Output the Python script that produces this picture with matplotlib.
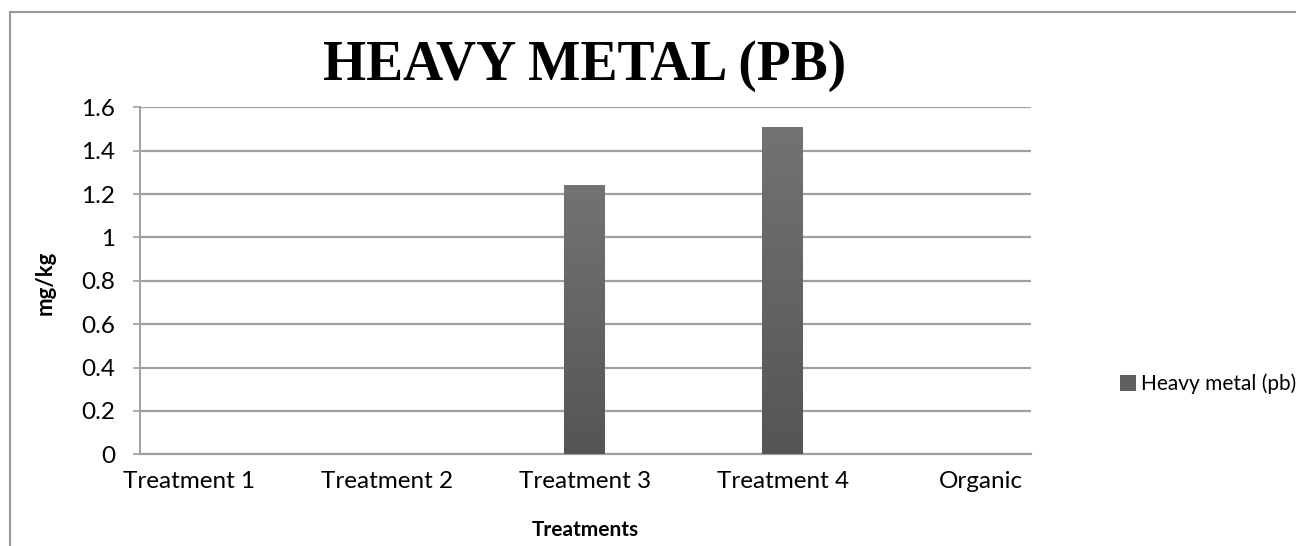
import numpy as np
import matplotlib
matplotlib.use("Agg")
import matplotlib.pyplot as plt
from matplotlib.lines import Line2D

categories = ["Treatment 1", "Treatment 2", "Treatment 3", "Treatment 4", "Organic"]
values = [0, 0, 1.24, 1.51, 0]
yticks = [0, 0.2, 0.4, 0.6, 0.8, 1.0, 1.2, 1.4, 1.6]
ytick_labels = ["0", "0.2", "0.4", "0.6", "0.8", "1", "1.2", "1.4", "1.6"]
series_name = "Heavy metal (pb)"

W, H = 1296, 546
fig = plt.figure(figsize=(W / 100, H / 100), dpi=100)
ax = fig.add_axes([140 / W, 1 - 454.3 / H, (1031 - 140) / W, (454.3 - 107.3) / H])

x = np.arange(len(categories))
bars = ax.bar(x, values, width=0.207, color="#606060", zorder=3)

# vertical gradient inside each bar (lighter on top)
grad = np.linspace(0, 1, 256).reshape(-1, 1)
cmap = matplotlib.colors.LinearSegmentedColormap.from_list("g", ["#555555", "#737373"])
for b in bars:
    if b.get_height() <= 0:
        continue
    x0, w, h = b.get_x(), b.get_width(), b.get_height()
    im = ax.imshow(grad, extent=[x0, x0 + w, 0, h], origin="lower", aspect="auto",
                   cmap=cmap, zorder=4)
    im.set_clip_path(b)

ax.set_xlim(-0.247, 4.253)
ax.set_ylim(0, 1.6)
ax.set_yticks(yticks)
ax.set_yticklabels(ytick_labels)
ax.set_xticks(x)
ax.set_xticklabels(categories)

ax.grid(axis="y", color="#a0a0a0", linewidth=1.6, zorder=0)
for s in ["top", "right"]:
    ax.spines[s].set_visible(False)
ax.spines["left"].set_color("#a0a0a0")
ax.spines["left"].set_linewidth(1.4)
ax.spines["bottom"].set_color("#a0a0a0")
ax.spines["bottom"].set_linewidth(1.6)
ax.tick_params(axis="y", length=5, width=1.2, color="#a0a0a0", pad=13,
               labelsize=17.5, labelcolor="black")
ax.tick_params(axis="x", length=0, pad=12, labelsize=17.5, labelcolor="black")
for lab in ax.get_xticklabels() + ax.get_yticklabels():
    lab.set_family("Lato")

fig.text(585 / W, 1 - 66 / H, "HEAVY METAL (PB)", ha="center", va="center",
         fontsize=40, fontweight="bold", family="Liberation Serif")
fig.text(45 / W, 1 - 283 / H, "mg/kg", ha="center", va="center", rotation=90,
         fontsize=16, fontweight="bold", family="Lato")
fig.text(585 / W, 1 - 530 / H, "Treatments", ha="center", va="center",
         fontsize=15, fontweight="bold", family="Lato")

# legend
leg = ax.legend([bars[2]], [series_name], loc="center left",
                bbox_to_anchor=(1120 / W, 1 - 384 / H), bbox_transform=fig.transFigure,
                frameon=False, borderpad=0, borderaxespad=0,
                handlelength=0.75, handleheight=0.75, handletextpad=0.25,
                prop={"family": "Lato", "size": 15})

# outer chart frame (left and top edges)
fig.add_artist(Line2D([10 / W, 10 / W], [0, 1 - 12 / H], transform=fig.transFigure,
                      color="#999999", linewidth=1.5))
fig.add_artist(Line2D([10 / W, 1], [1 - 12 / H, 1 - 12 / H], transform=fig.transFigure,
                      color="#999999", linewidth=1.5))

fig.savefig("out.png", dpi=100)
